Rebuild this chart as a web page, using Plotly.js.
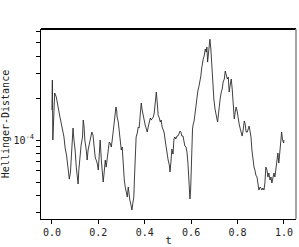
<!DOCTYPE html>
<html>
<head>
<meta charset="utf-8">
<script src="https://cdn.plot.ly/plotly-3.0.1.min.js"></script>
<style>html,body{margin:0;padding:0;background:#fff;}#chart{width:299px;height:247px;}</style>
</head>
<body>
<div id="chart"></div>
<script>
const tValues = [0.000,0.002,0.004,0.007,0.012,0.019,0.026,0.033,0.040,0.047,0.052,0.057,0.063,0.069,0.075,0.080,0.083,0.088,0.091,0.095,
0.100,0.105,0.109,0.113,0.116,0.121,0.126,0.132,0.135,0.138,0.142,0.148,0.152,0.156,0.161,0.167,0.172,0.177,0.181,0.187,
0.191,0.195,0.200,0.204,0.208,0.213,0.217,0.221,0.225,0.230,0.234,0.238,0.243,0.247,0.251,0.256,0.260,0.264,0.269,0.273,
0.276,0.279,0.281,0.286,0.290,0.294,0.299,0.303,0.307,0.312,0.316,0.320,0.325,0.329,0.333,0.336,0.341,0.345,0.349,0.353,
0.356,0.359,0.363,0.368,0.372,0.376,0.381,0.385,0.389,0.394,0.398,0.402,0.406,0.411,0.415,0.419,0.424,0.428,0.432,0.437,
0.441,0.445,0.450,0.454,0.458,0.463,0.467,0.471,0.475,0.480,0.484,0.488,0.493,0.497,0.501,0.506,0.509,0.513,0.517,0.522,
0.526,0.530,0.534,0.539,0.543,0.547,0.552,0.556,0.560,0.565,0.569,0.573,0.578,0.582,0.586,0.589,0.592,0.595,0.598,0.600,
0.603,0.606,0.609,0.612,0.615,0.619,0.624,0.626,0.629,0.634,0.638,0.642,0.645,0.648,0.652,0.656,0.661,0.665,0.668,0.671,
0.675,0.678,0.681,0.685,0.690,0.694,0.698,0.703,0.707,0.711,0.714,0.717,0.721,0.725,0.730,0.734,0.738,0.743,0.747,0.751,
0.756,0.760,0.764,0.769,0.773,0.777,0.781,0.786,0.790,0.794,0.799,0.803,0.807,0.812,0.816,0.820,0.825,0.829,0.833,0.837,
0.842,0.846,0.850,0.853,0.858,0.862,0.866,0.871,0.875,0.879,0.884,0.888,0.892,0.897,0.901,0.905,0.909,0.914,0.918,0.922,
0.927,0.931,0.935,0.940,0.944,0.948,0.953,0.957,0.961,0.966,0.970,0.974,0.978,0.983,0.987,0.990,0.994,0.999,1.000];

const hellingerValues = [1.641e-4,2.692e-4,1.000e-4,1.511e-4,2.174e-4,2.035e-4,1.697e-4,1.511e-4,1.324e-4,1.141e-4,1.051e-4,0.876e-4,0.781e-4,0.640e-4,0.525e-4,0.590e-4,0.719e-4,1.000e-4,1.219e-4,1.000e-4,
0.848e-4,0.640e-4,0.543e-4,0.484e-4,0.609e-4,0.807e-4,0.921e-4,1.051e-4,1.391e-4,1.281e-4,1.000e-4,0.848e-4,0.719e-4,0.848e-4,0.921e-4,1.051e-4,1.141e-4,1.086e-4,0.891e-4,0.743e-4,
0.719e-4,0.684e-4,0.609e-4,0.891e-4,1.000e-4,0.719e-4,0.590e-4,0.500e-4,0.580e-4,0.719e-4,0.640e-4,0.719e-4,0.807e-4,0.968e-4,0.952e-4,0.891e-4,1.000e-4,1.180e-4,1.391e-4,1.562e-4,
1.725e-4,1.641e-4,1.462e-4,1.346e-4,1.180e-4,1.000e-4,0.848e-4,0.891e-4,0.640e-4,0.517e-4,0.460e-4,0.424e-4,0.390e-4,0.460e-4,0.390e-4,0.371e-4,0.342e-4,0.315e-4,0.354e-4,0.390e-4,
0.543e-4,0.755e-4,1.051e-4,1.123e-4,1.239e-4,1.219e-4,1.462e-4,1.843e-4,1.641e-4,1.462e-4,1.346e-4,1.281e-4,1.219e-4,1.141e-4,1.239e-4,1.346e-4,1.438e-4,1.391e-4,1.438e-4,1.462e-4,
1.562e-4,1.843e-4,2.210e-4,1.843e-4,1.511e-4,1.438e-4,1.346e-4,1.391e-4,1.239e-4,1.180e-4,1.123e-4,1.000e-4,0.891e-4,0.755e-4,0.719e-4,0.662e-4,0.590e-4,0.696e-4,0.862e-4,0.794e-4,
1.017e-4,1.051e-4,1.017e-4,1.068e-4,1.068e-4,1.104e-4,1.160e-4,1.141e-4,1.068e-4,1.068e-4,0.984e-4,0.906e-4,0.891e-4,0.820e-4,0.696e-4,0.525e-4,0.424e-4,0.378e-4,0.445e-4,0.620e-4,
0.820e-4,1.199e-4,1.302e-4,1.346e-4,1.462e-4,1.669e-4,1.873e-4,2.069e-4,2.247e-4,2.440e-4,2.605e-4,2.877e-4,3.227e-4,3.620e-4,3.805e-4,3.999e-4,4.488e-4,4.269e-4,4.638e-4,3.620e-4,
4.488e-4,4.951e-4,5.284e-4,4.488e-4,3.072e-4,2.440e-4,1.969e-4,1.669e-4,1.536e-4,1.415e-4,1.346e-4,1.487e-4,1.754e-4,1.969e-4,2.210e-4,2.322e-4,2.605e-4,2.737e-4,3.123e-4,2.877e-4,
2.737e-4,2.829e-4,2.210e-4,2.520e-4,2.737e-4,2.322e-4,1.669e-4,1.415e-4,1.588e-4,1.725e-4,1.588e-4,1.415e-4,1.302e-4,1.199e-4,1.141e-4,1.068e-4,1.199e-4,1.369e-4,1.302e-4,1.141e-4,
1.141e-4,1.199e-4,1.260e-4,1.180e-4,1.051e-4,0.848e-4,0.719e-4,0.640e-4,0.609e-4,0.561e-4,0.543e-4,0.460e-4,0.438e-4,0.460e-4,0.453e-4,0.438e-4,0.453e-4,0.438e-4,0.492e-4,0.640e-4,
0.609e-4,0.543e-4,0.580e-4,0.517e-4,0.543e-4,0.492e-4,0.534e-4,0.580e-4,0.543e-4,0.640e-4,0.719e-4,0.807e-4,0.684e-4,0.807e-4,1.000e-4,1.141e-4,1.000e-4,0.952e-4,1.000e-4];

const xTickVals = [0, 0.2, 0.4, 0.6, 0.8, 1.0];
const xTickText = ['0.0', '0.2', '0.4', '0.6', '0.8', '1.0'];
const yTickVals = [1e-4];
const yTickText = ['10<sup>-4</sup>'];
const yMinorTickVals = [3e-5, 4e-5, 5e-5, 6e-5, 7e-5, 8e-5, 9e-5, 2e-4, 3e-4, 4e-4, 5e-4, 6e-4];

const mono = 'DejaVu Sans Mono, monospace';

const trace = {
  x: tValues,
  y: hellingerValues,
  type: 'scatter',
  mode: 'lines',
  line: {color: '#2a2a2a', width: 0.9},
  hoverinfo: 'none'
};

const layout = {
  width: 299,
  height: 247,
  margin: {l: 41, r: 3, t: 29, b: 28, pad: 0},
  paper_bgcolor: '#fff',
  plot_bgcolor: '#fff',
  showlegend: false,
  font: {family: mono, size: 10, color: '#000'},
  xaxis: {
    range: [-0.047, 1.052],
    tickvals: xTickVals,
    ticktext: xTickText,
    ticks: 'outside',
    ticklen: 4,
    tickwidth: 1,
    tickcolor: '#000',
    showline: true,
    linecolor: '#000',
    linewidth: 1,
    showgrid: false,
    zeroline: false,
    tickfont: {family: mono, size: 10, color: '#222'},
    title: {text: 't', font: {family: mono, size: 11, color: '#222'}, standoff: 2}
  },
  yaxis: {
    type: 'log',
    range: [-4.566, -3.204],
    tickmode: 'array',
    tickvals: yTickVals,
    ticktext: yTickText,
    ticks: 'outside',
    ticklen: 4,
    tickwidth: 1,
    tickcolor: '#000',
    minor: {tickmode: 'array', tickvals: yMinorTickVals, ticks: 'outside', ticklen: 4, tickwidth: 1, tickcolor: '#000', showgrid: false},
    showline: true,
    linecolor: '#000',
    linewidth: 1,
    showgrid: false,
    zeroline: false,
    tickfont: {family: mono, size: 10, color: '#222'},
    title: {text: 'Hellinger-Distance', font: {family: mono, size: 10, color: '#222'}, standoff: 6}
  },
  shapes: [
    {type: 'line', xref: 'paper', yref: 'paper', x0: 0, x1: 1, y0: 1, y1: 1, line: {color: '#000', width: 1.8}},
    {type: 'line', xref: 'paper', yref: 'paper', x0: 1, x1: 1, y0: 0, y1: 1, line: {color: '#888', width: 1.5}}
  ]
};

Plotly.newPlot('chart', [trace], layout, {displayModeBar: false, staticPlot: true});
</script>
</body>
</html>
